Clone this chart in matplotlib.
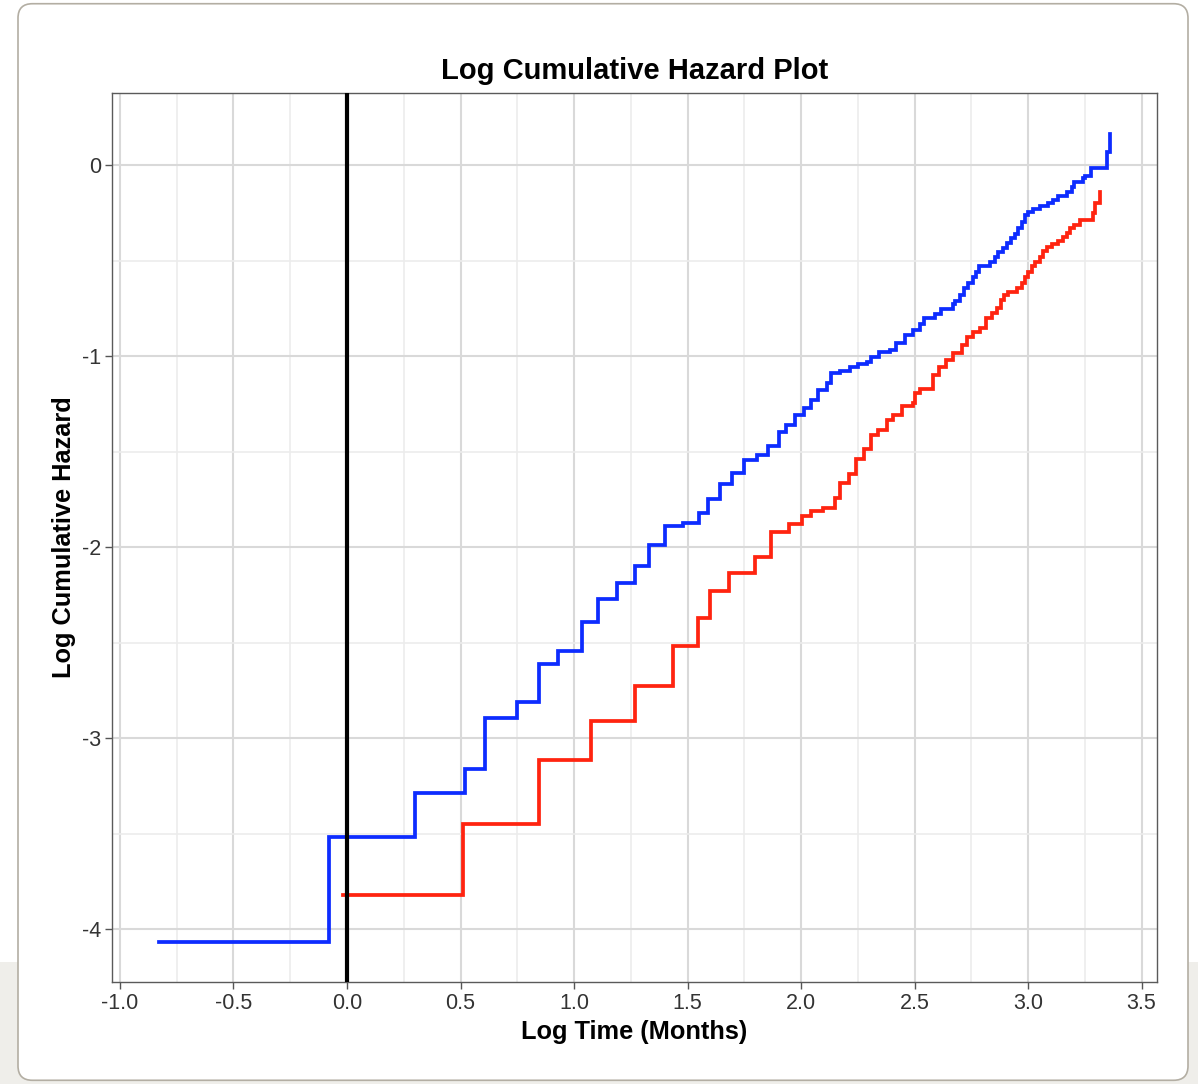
import matplotlib
matplotlib.use("Agg")
import matplotlib.pyplot as plt
from matplotlib.patches import FancyBboxPatch, Rectangle

plt.rcParams['font.family'] = ['Liberation Sans', 'DejaVu Sans']

# ---- data ----
blue_time = [-0.83, -0.08, 0.30, 0.52, 0.61, 0.75, 0.845, 0.93, 1.035, 1.105,
             1.19, 1.27, 1.33, 1.40, 1.48, 1.55, 1.59, 1.645, 1.695, 1.75,
             1.805, 1.855, 1.905, 1.935, 1.975, 2.015, 2.045, 2.075, 2.115, 2.13,
             2.17, 2.215, 2.25, 2.29, 2.31, 2.345, 2.39, 2.42, 2.46, 2.495,
             2.525, 2.543, 2.59, 2.615, 2.67, 2.678, 2.70, 2.72, 2.735, 2.757,
             2.77, 2.784, 2.833, 2.855, 2.868, 2.89, 2.907, 2.925, 2.943, 2.956,
             2.974, 2.987, 3.00, 3.022, 3.053, 3.09, 3.11, 3.132, 3.172, 3.194,
             3.203, 3.242, 3.251, 3.278, 3.348, 3.361]
blue_hazard = [-4.07, -3.52, -3.29, -3.16, -2.895, -2.81, -2.61, -2.545, -2.39, -2.27,
               -2.19, -2.10, -1.99, -1.89, -1.875, -1.82, -1.75, -1.67, -1.61, -1.545,
               -1.52, -1.47, -1.40, -1.36, -1.31, -1.27, -1.23, -1.18, -1.14, -1.09,
               -1.08, -1.06, -1.04, -1.03, -1.005, -0.98, -0.97, -0.93, -0.89, -0.865,
               -0.83, -0.80, -0.78, -0.755, -0.73, -0.71, -0.68, -0.645, -0.62, -0.585,
               -0.56, -0.53, -0.51, -0.48, -0.455, -0.435, -0.41, -0.38, -0.36, -0.33,
               -0.30, -0.26, -0.245, -0.23, -0.215, -0.20, -0.185, -0.16, -0.14, -0.115,
               -0.09, -0.07, -0.06, -0.016, 0.07, 0.16]

red_time = [-0.018, 0.51, 0.845, 1.075, 1.27, 1.435, 1.545, 1.60, 1.683, 1.797,
            1.868, 1.947, 2.004, 2.044, 2.097, 2.15, 2.172, 2.211, 2.242, 2.278,
            2.308, 2.339, 2.379, 2.405, 2.445, 2.493, 2.502, 2.524, 2.581, 2.608,
            2.639, 2.670, 2.709, 2.731, 2.758, 2.789, 2.815, 2.841, 2.863, 2.881,
            2.894, 2.912, 2.952, 2.974, 2.987, 3.00, 3.018, 3.031, 3.053, 3.066,
            3.084, 3.106, 3.132, 3.154, 3.172, 3.185, 3.203, 3.229, 3.286, 3.295,
            3.317]
red_hazard = [-3.82, -3.45, -3.115, -2.91, -2.73, -2.52, -2.37, -2.23, -2.135, -2.05,
              -1.92, -1.88, -1.84, -1.81, -1.795, -1.745, -1.665, -1.62, -1.54, -1.485,
              -1.415, -1.385, -1.335, -1.31, -1.26, -1.245, -1.195, -1.17, -1.10, -1.06,
              -1.02, -0.985, -0.94, -0.90, -0.875, -0.855, -0.80, -0.775, -0.75, -0.705,
              -0.68, -0.665, -0.645, -0.62, -0.585, -0.56, -0.53, -0.51, -0.48, -0.45,
              -0.43, -0.415, -0.40, -0.375, -0.355, -0.33, -0.315, -0.29, -0.25, -0.20,
              -0.14]

x_ticks = [-1.0, -0.5, 0.0, 0.5, 1.0, 1.5, 2.0, 2.5, 3.0, 3.5]
x_tick_labels = ["-1.0", "-0.5", "0.0", "0.5", "1.0", "1.5", "2.0", "2.5", "3.0", "3.5"]
y_ticks = [-4, -3, -2, -1, 0]
y_tick_labels = ["-4", "-3", "-2", "-1", "0"]

W, H = 1198, 1084
fig = plt.figure(figsize=(W / 100, H / 100), dpi=100)
fig.patch.set_facecolor('white')

def fx(px):
    return px / W

def fy(py):
    return 1 - py / H

# page background below card area and card
fig.patches.append(Rectangle((0, 0), 1, fy(962), transform=fig.transFigure,
                             facecolor='#efeeea', edgecolor='none', zorder=0))
card = FancyBboxPatch((fx(18) + 0.012, fy(1080) + 0.013),
                      fx(1188) - fx(18) - 0.024, fy(4) - fy(1080) - 0.026,
                      boxstyle="round,pad=0.012", transform=fig.transFigure,
                      facecolor='white', edgecolor='#b3aea3', linewidth=1.2, zorder=1,
                      mutation_aspect=W / H)
fig.patches.append(card)

ax = fig.add_axes([fx(112), fy(982), fx(1157) - fx(112), fy(93) - fy(982)])
ax.set_zorder(2)
ax.set_facecolor('white')

ax.set_xlim(-1.0352, 3.568)
ax.set_ylim(-4.277, 0.377)

ax.set_xticks(x_ticks)
ax.set_xticklabels(x_tick_labels)
ax.set_yticks(y_ticks)
ax.set_yticklabels(y_tick_labels)
ax.set_xticks([-0.75, -0.25, 0.25, 0.75, 1.25, 1.75, 2.25, 2.75, 3.25], minor=True)
ax.set_yticks([-3.5, -2.5, -1.5, -0.5], minor=True)

ax.grid(which='major', color='#d9d9d9', linewidth=1.5)
ax.grid(which='minor', color='#ececec', linewidth=1.2)
ax.set_axisbelow(True)
ax.tick_params(which='minor', length=0)
ax.tick_params(which='major', length=5, width=1, color='#555555',
               labelsize=15.5, labelcolor='#333333', pad=3)

for s in ax.spines.values():
    s.set_color('#5a5a5a')
    s.set_linewidth(1.0)

ax.step(blue_time, blue_hazard, where='post', color='#0d2cff', linewidth=2.7,
        solid_joinstyle='miter', zorder=3)
ax.step(red_time, red_hazard, where='post', color='#ff2410', linewidth=2.7,
        solid_joinstyle='miter', zorder=3)
ax.axvline(0, color='black', linewidth=3.0, zorder=4)

ax.set_title("Log Cumulative Hazard Plot", fontsize=21, fontweight='bold', pad=10)
ax.set_xlabel("Log Time (Months)", fontsize=18.3, fontweight='bold', labelpad=4)
ax.set_ylabel("Log Cumulative Hazard", fontsize=18.3, fontweight='bold', labelpad=4)

fig.savefig("out.png", dpi=100, facecolor=fig.get_facecolor())
